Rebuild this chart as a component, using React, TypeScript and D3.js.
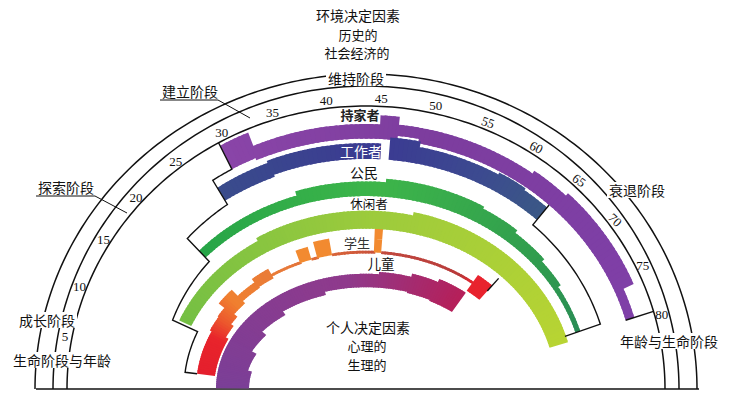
import React from 'react';
import * as d3 from 'd3';

// 年龄刻度
const tickAges = [5, 10, 15, 20, 25, 30, 35, 40, 45, 50, 55, 60, 65, 70, 75, 80];

// 角色带: [起始年龄, 结束年龄, 内半径, 外半径]
type Seg = [number, number, number, number];

const homemaker: Seg[] = [
  [29.3, 32, 272, 296],
  [32, 45, 270, 283],
  [45, 46.6, 270, 291],
  [46.6, 49, 274, 284],
  [49, 61, 270, 284],
  [61, 65, 270, 287],
  [65, 76, 270, 290],
  [76, 79.5, 270, 279],
];

const worker: Seg[] = [
  [27, 33, 250, 264],
  [33, 45.2, 252, 266],
  [46.1, 49, 252, 272],
  [49, 58, 252, 267],
  [58, 61, 252, 269],
  [61, 64.3, 252, 267],
];

const citizen: Seg[] = [
  [20.8, 35, 219, 228],
  [35, 46, 219, 232],
  [46, 58, 219, 235],
  [58, 63, 219, 233],
  [63, 68, 219, 230],
  [68, 72, 219, 227],
  [72, 79, 219, 224],
];

const leisure: Seg[] = [
  [11.2, 28, 190, 203],
  [28, 50, 190, 206],
  [50, 80, 190, 209],
];

const student: Seg[] = [
  [3, 12, 152, 170],
  [12, 15, 155, 172],
  [15, 17, 158, 173],
  [17, 20, 162, 180],
  [20, 24, 165, 172],
  [24, 27, 166, 176],
  [27, 32.5, 168, 170.5],
  [32.5, 34.5, 169, 181],
  [34.5, 35.5, 168, 170.5],
  [35.5, 38, 169, 184],
  [38, 44.9, 168, 170.5],
  [44.9, 46.1, 169, 181],
  [44.9, 46.1, 181, 196],
  [46.1, 62.5, 168, 170.5],
  [62.5, 65.5, 160, 178],
];

const child: Seg[] = [
  [0, 6, 117, 150],
  [6, 12, 121, 150],
  [12, 18, 126, 150],
  [18, 25, 131, 150],
  [25, 35, 135, 150],
  [35, 46, 138, 150],
  [46, 52, 138, 152],
  [52, 57, 137, 155],
  [57, 62.6, 136, 158],
];

// 角色区域边框: [年龄, 半径]
const outlineLeft: [number, number][] = [
  [29.3, 299], [29.3, 272], [27, 272], [27, 246], [20.8, 244], [20.8, 214],
  [10.8, 209], [10.8, 182], [3, 182], [3, 170],
];
const outlineHomeEnd: [number, number][] = [[79.5, 299], [79.5, 270]];
const outlineWorkEnd: [number, number][] = [[64.3, 270], [64.3, 246], [79, 245], [79, 208]];
const outlineStudentEnd: [number, number][] = [[65.5, 171], [65.5, 187]];

// 颜色 (沿年龄渐变)
const homemakerColors = { ages: [29, 50, 80], colors: ['#8a45a8', '#7d3d9e', '#7f40a8'] };
const workerColors = { ages: [27, 45, 56, 64], colors: ['#3a4c8c', '#3b3a92', '#3c4a90', '#3b5886'] };
const citizenColors = { ages: [21, 45, 70, 79], colors: ['#27a548', '#3db54a', '#2f9a4f', '#2a8c55'] };
const leisureColors = { ages: [11, 45, 80], colors: ['#74bf44', '#9dcb3c', '#b8d433'] };
const studentColors = {
  ages: [3, 11, 15, 19, 30, 40, 48, 60, 62.5, 66],
  colors: ['#e41f2d', '#e8242c', '#ec5a2d', '#f08030', '#e77a3a', '#d5603a', '#c0473e', '#b83a3a', '#e8232e', '#e8232e'],
};
const childColors = { ages: [0, 40, 62], colors: ['#7b3f97', '#8f3a8c', '#b5205a'] };
const bumpColor = '#f28a30';

export default function App() {
  const width = 732;
  const height = 412;
  const cx = 366;
  const cy = 389;
  const toRad = Math.PI / 180;

  const ageToAngle = d3.scaleLinear().domain([0, 5, 80]).range([0.4 * toRad, 10.3 * toRad, 165.1 * toRad]);
  const ryScale = d3.scaleLinear().domain([148, 299]).range([113, 283]);

  const pt = (age: number, r: number): [number, number] => {
    const t = ageToAngle(age);
    return [cx - r * Math.cos(t), cy - ryScale(r) * Math.sin(t)];
  };
  const line = d3.line();

  const bandPath = (a0: number, a1: number, r0: number, r1: number) => {
    const n = Math.max(2, Math.ceil((a1 - a0) * 3));
    const outer = d3.range(n + 1).map(i => pt(a0 + ((a1 - a0) * i) / n, r1));
    const inner = d3.range(n + 1).map(i => pt(a1 - ((a1 - a0) * i) / n, r0));
    return line([...outer, ...inner]) + 'Z';
  };

  // 每段切成约半年一块, 颜色随年龄变化; 相邻块略微重叠以避免接缝
  const pieces = (segs: Seg[], pal: { ages: number[]; colors: string[] }, bumps = false) => {
    const color = d3.scaleLinear<string>().domain(pal.ages).range(pal.colors).clamp(true);
    return segs.flatMap(([a0, a1, r0, r1], si) => {
      if (bumps && (r0 + r1) / 2 > 174) return [{ d: bandPath(a0, a1, r0, r1), c: bumpColor }];
      const next = segs[si + 1];
      const joined = next && Math.abs(next[0] - a1) < 1e-6;
      const k = Math.max(1, Math.ceil((a1 - a0) * 2));
      return d3.range(k).map(j => {
        const s = a0 + ((a1 - a0) * j) / k;
        const e = a0 + ((a1 - a0) * (j + 1)) / k;
        const eo = j < k - 1 ? Math.min(a1, e + 0.3) : joined ? e + 0.25 : e;
        return { d: bandPath(s, eo, r0, r1), c: color((s + e) / 2) };
      });
    });
  };

  const outlinePath = (verts: [number, number][]) => {
    const pts: [number, number][] = [];
    for (let i = 0; i < verts.length - 1; i++) {
      const [a0, r0] = verts[i];
      const [a1, r1] = verts[i + 1];
      const n = a0 === a1 ? 1 : 24;
      for (let j = 0; j <= n; j++) {
        pts.push(pt(a0 + ((a1 - a0) * j) / n, r0 + ((r1 - r0) * j) / n));
      }
    }
    return line(pts);
  };

  const framePath = (rx: number, ry: number) =>
    line(d3.range(0, 181, 1).map(deg => [cx - rx * Math.cos(deg * toRad), cy - ry * Math.sin(deg * toRad)] as [number, number]));

  const frames: [number, number][] = [[331, 315], [313, 303], [299, 283]];

  const allBands = [
    ...pieces(child, childColors),
    ...pieces(student, studentColors, true),
    ...pieces(leisure, leisureColors),
    ...pieces(citizen, citizenColors),
    ...pieces(homemaker, homemakerColors),
    ...pieces(worker, workerColors),
  ];

  const cjk = '"Noto Sans CJK SC", "Noto Sans", sans-serif';
  const serif = '"Liberation Serif", "DejaVu Serif", serif';

  const stageLabels = [
    { text: '维持阶段', x: 356, y: 78 },
    { text: '建立阶段', x: 190, y: 91 },
    { text: '探索阶段', x: 66, y: 187 },
    { text: '衰退阶段', x: 637, y: 190 },
    { text: '成长阶段', x: 47, y: 320 },
    { text: '生命阶段与年龄', x: 62, y: 360 },
    { text: '年龄与生命阶段', x: 669, y: 341 },
  ];

  return (
    <div style={{ position: 'fixed', left: 0, top: 0 }}>
      <svg width={width} height={height} style={{ display: 'block', background: '#fff' }}>
        {/* 外框弧线 */}
        {frames.map(([rx, ry], i) => (
          <path key={i} d={framePath(rx, ry) || ''} fill="none" stroke="#111" strokeWidth={1.5} />
        ))}
        <line x1={36} x2={699} y1={cy} y2={cy} stroke="#111" strokeWidth={1.5} />

        {/* 角色带 */}
        {allBands.map((p, i) => (
          <path key={i} d={p.d} fill={p.c} />
        ))}

        {/* 角色区域边框 */}
        {[outlineLeft, outlineHomeEnd, outlineWorkEnd, outlineStudentEnd].map((v, i) => (
          <path key={i} d={outlinePath(v) || ''} fill="none" stroke="#111" strokeWidth={1.4} />
        ))}

        {/* 年龄刻度 */}
        {tickAges.map(age => {
          const [x, y] = pt(age, 306);
          const t = ageToAngle(age) / toRad;
          const rot = age >= 55 && age <= 70 ? (t - 90) * 0.8 : 0;
          return (
            <text key={age} x={x} y={y} fontFamily={serif} fontSize={13} textAnchor="middle"
              dominantBaseline="central" fill="#111" transform={`rotate(${rot},${x},${y})`}>
              {age}
            </text>
          );
        })}

        {/* 阶段标签 */}
        {stageLabels.map(l => (
          <g key={l.text}>
            <rect x={l.x - l.text.length * 7 - 2} y={l.y - 8} width={l.text.length * 14 + 4} height={16} fill="#fff" />
            <text x={l.x} y={l.y} fontFamily={cjk} fontSize={14} textAnchor="middle" dominantBaseline="central" fill="#111">
              {l.text}
            </text>
          </g>
        ))}
        <polyline points="160,100 218,100 250,118" fill="none" stroke="#111" strokeWidth={1} />
        <polyline points="36,196 95,196 127,213" fill="none" stroke="#111" strokeWidth={1} />

        {/* 环境与个人决定因素 */}
        <g fontFamily={cjk} fontSize={13} textAnchor="middle" fill="#111">
          <text x={358} y={15} fontSize={14} dominantBaseline="central">环境决定因素</text>
          <text x={358} y={34} dominantBaseline="central">历史的</text>
          <text x={357} y={52} dominantBaseline="central">社会经济的</text>
          <text x={368} y={327} fontSize={14} dominantBaseline="central">个人决定因素</text>
          <text x={367} y={345} dominantBaseline="central">心理的</text>
          <text x={367} y={364} dominantBaseline="central">生理的</text>
        </g>

        {/* 角色标签 */}
        <g fontFamily={cjk} textAnchor="middle" dominantBaseline="central">
          <text x={360} y={114} fontSize={13} fontWeight="bold" fill="#222">持家者</text>
          <text x={361} y={151} fontSize={14} fill="#fff">工作者</text>
          <text x={364} y={172} fontSize={14} fill="#111">公民</text>
          <text x={369} y={203} fontSize={12.5} fill="#111">休闲者</text>
          <text x={357} y={242} fontSize={13} fill="#333">学生</text>
          <text x={381} y={263} fontSize={13.5} fill="#111">儿童</text>
        </g>
      </svg>
    </div>
  );
}
